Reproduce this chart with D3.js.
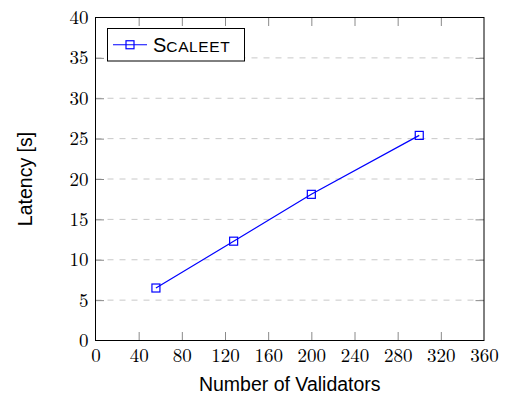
<!DOCTYPE html>
<html>
<head>
<meta charset="utf-8">
<script src="https://cdn.jsdelivr.net/npm/d3@7"></script>
<style>
  body { margin: 0; background: #fff; }
  svg { display: block; }
</style>
</head>
<body>
<svg width="505" height="398"></svg>
<script>
// data
var validators = [56, 128, 200, 300];
var latency = [6.5, 12.3, 18.1, 25.4];
var seriesName = "Scaleet";
var xTicks = [0, 40, 80, 120, 160, 200, 240, 280, 320, 360];
var yTicks = [0, 5, 10, 15, 20, 25, 30, 35, 40];

var svg = d3.select("svg"),
  margin = {top: 17.5, right: 21, bottom: 57.5, left: 95.5},
  width = +svg.attr("width") - margin.left - margin.right,
  height = +svg.attr("height") - margin.top - margin.bottom,
  g = svg.append("g").attr("transform", "translate(" + margin.left + "," + margin.top + ")");

var x = d3.scaleLinear().domain([0, 360]).range([0, width]);
var y = d3.scaleLinear().domain([0, 40]).range([height, 0]);

var data = validators.map(function(v, i) { return {x: v, y: latency[i]}; });

var serif = "'Latin Modern Roman','Liberation Serif','DejaVu Serif',serif";
var sans = "'Liberation Sans',Arial,sans-serif";
var tickLen = 8.5;

// dashed grid on major y ticks
g.append("g")
  .selectAll("line")
  .data(yTicks.filter(function(d) { return d > 0 && d < 40; }))
  .enter().append("line")
  .attr("x1", 0)
  .attr("x2", width)
  .attr("y1", function(d) { return y(d); })
  .attr("y2", function(d) { return y(d); })
  .attr("stroke", "#c8c8c8")
  .attr("stroke-width", 1)
  .attr("stroke-dasharray", "6,6");

// bottom / top / left / right ticks pointing inward
function styleAxis(sel) {
  sel.select(".domain").remove();
  sel.selectAll(".tick line").attr("stroke", "#8a8a8a").attr("stroke-width", 1);
  sel.selectAll(".tick text").attr("fill", "#000").style("font-family", serif).style("font-size", "19px");
}

g.append("g")
  .attr("transform", "translate(0," + height + ")")
  .call(d3.axisBottom(x).tickValues(xTicks).tickSizeInner(-tickLen).tickSizeOuter(0).tickPadding(8).tickFormat(d3.format("d")))
  .call(styleAxis)
  .call(function(s) { s.selectAll(".tick line").filter(function(d) { return d === 0 || d === 360; }).remove(); });

g.append("g")
  .call(d3.axisTop(x).tickValues(xTicks).tickSizeInner(-tickLen).tickSizeOuter(0).tickFormat(""))
  .call(styleAxis)
  .call(function(s) { s.selectAll(".tick line").filter(function(d) { return d === 0 || d === 360; }).remove(); });

g.append("g")
  .call(d3.axisLeft(y).tickValues(yTicks).tickSizeInner(-tickLen).tickSizeOuter(0).tickPadding(7).tickFormat(d3.format("d")))
  .call(styleAxis)
  .call(function(s) { s.selectAll(".tick line").filter(function(d) { return d === 0 || d === 40; }).remove(); });

g.append("g")
  .attr("transform", "translate(" + width + ",0)")
  .call(d3.axisRight(y).tickValues(yTicks).tickSizeInner(-tickLen).tickSizeOuter(0).tickFormat(""))
  .call(styleAxis)
  .call(function(s) { s.selectAll(".tick line").filter(function(d) { return d === 0 || d === 40; }).remove(); });

// frame
g.append("rect")
  .attr("width", width)
  .attr("height", height)
  .attr("fill", "none")
  .attr("stroke", "#000")
  .attr("stroke-width", 1);

// series
var line = d3.line()
  .x(function(d) { return x(d.x); })
  .y(function(d) { return y(d.y); });

g.append("path")
  .datum(data)
  .attr("fill", "none")
  .attr("stroke", "#0000ff")
  .attr("stroke-width", 1.2)
  .attr("d", line);

g.selectAll(".mark")
  .data(data)
  .enter().append("rect")
  .attr("class", "mark")
  .attr("x", function(d) { return x(d.x) - 4; })
  .attr("y", function(d) { return y(d.y) - 4; })
  .attr("width", 8)
  .attr("height", 8)
  .attr("fill", "none")
  .attr("stroke", "#0000ff")
  .attr("stroke-width", 1.2);

// legend
var lg = svg.append("g").attr("transform", "translate(107.5,28.5)");
lg.append("rect")
  .attr("width", 137)
  .attr("height", 32.5)
  .attr("fill", "#fff")
  .attr("stroke", "#000")
  .attr("stroke-width", 1);
lg.append("line")
  .attr("x1", 5.5).attr("x2", 39.5)
  .attr("y1", 16.25).attr("y2", 16.25)
  .attr("stroke", "#0000ff").attr("stroke-width", 1.2);
lg.append("rect")
  .attr("x", 18.5).attr("y", 12.25)
  .attr("width", 8).attr("height", 8)
  .attr("fill", "none").attr("stroke", "#0000ff").attr("stroke-width", 1.2);
var lt = lg.append("text")
  .attr("x", 45.5)
  .attr("y", 23)
  .style("font-family", sans)
  .attr("fill", "#000");
lt.append("tspan").style("font-size", "20px").text(seriesName.charAt(0).toUpperCase());
lt.append("tspan").style("font-size", "15.5px").style("letter-spacing", "0.6px").text(seriesName.slice(1).toUpperCase());

// axis titles
svg.append("text")
  .attr("x", margin.left + width / 2)
  .attr("y", 391)
  .attr("text-anchor", "middle")
  .style("font-family", sans)
  .style("font-size", "19.5px")
  .text("Number of Validators");

svg.append("text")
  .attr("transform", "translate(32," + (margin.top + height / 2) + ") rotate(-90)")
  .attr("text-anchor", "middle")
  .style("font-family", sans)
  .style("font-size", "19.5px")
  .text("Latency [s]");
</script>
</body>
</html>
